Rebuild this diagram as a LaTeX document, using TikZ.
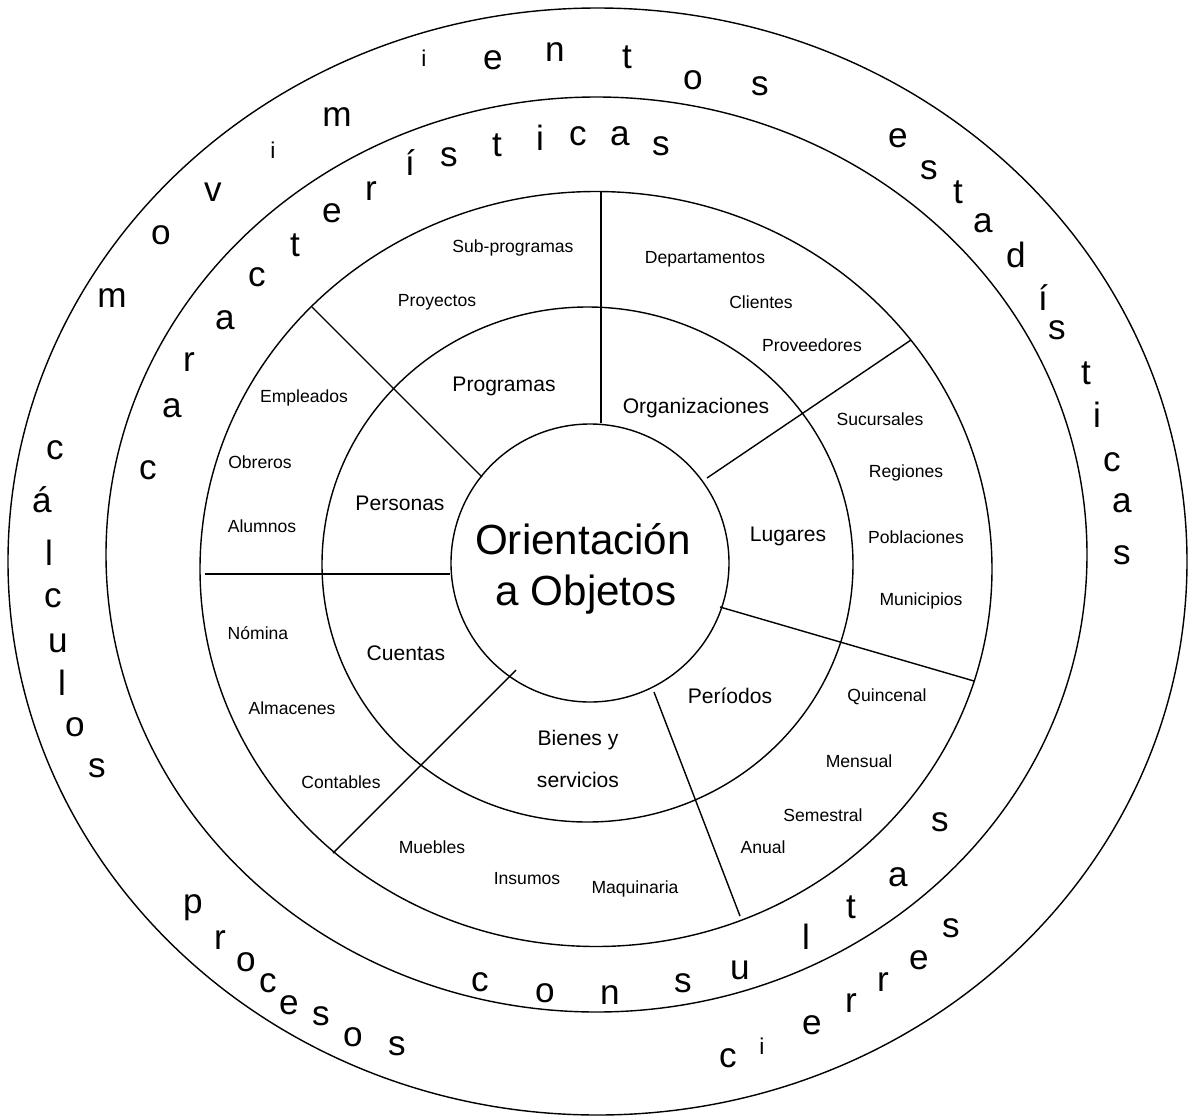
\documentclass[tikz,border=0pt]{standalone}
\usepackage{fontspec}
\setmainfont{Liberation Sans}
\begin{document}
\begin{tikzpicture}[x=0.02cm,y=-0.02cm,line width=0.8pt,
    core/.style={font=\fontsize{24}{29}\selectfont,inner sep=0pt},
    group/.style={font=\fontsize{12}{14}\selectfont,inner sep=0pt},
    item/.style={font=\fontsize{10}{12}\selectfont,inner sep=0pt},
    ringch/.style={font=\fontsize{20}{24}\selectfont,inner sep=0pt},
    ringsm/.style={font=\fontsize{13}{15}\selectfont,inner sep=0pt}]
  \useasboundingbox (0,0) rectangle (1188,1120);
  % rings
  \draw (590,563) ellipse [x radius=139,y radius=139];
  \draw (587.5,564.5) ellipse [x radius=265.5,y radius=257.5];
  \draw (596,569) ellipse [x radius=396,y radius=377.5];
  \draw (596.5,554.5) ellipse [x radius=490.5,y radius=457.5];
  \draw (597.5,561.5) ellipse [x radius=589.5,y radius=553.5];
  % dividers
  \draw (601,192) -- (601,423);
  \draw (312,307) -- (482,477);
  \draw (911,340) -- (707,478);
  \draw (205,574) -- (450,574);
  \draw (720,607) -- (974,681);
  \draw (516,670) -- (333,853);
  \draw (654,692) -- (740,916);
  % center
  \node[core,anchor=base] (core1) at (583,554) {Orientación};
  \node[core,anchor=base] (core2) at (586,605) {a Objetos};
  % first ring
  \node[group] (prog) at (504,386) {Programas};
  \node[group] (orga) at (696,408) {Organizaciones};
  \node[group] (pers) at (400,503) {Personas};
  \node[group] (luga) at (788,536) {Lugares};
  \node[group] (cuen) at (406,653) {Cuentas};
  \node[group] (peri) at (730,696) {Períodos};
  \node[group] (bien1) at (578,740) {Bienes y};
  \node[group] (bien2) at (578,780) {servicios};
  % second ring
  \node[item] (subp) at (513,248) {Sub-programas};
  \node[item] (proy) at (437,302) {Proyectos};
  \node[item] (depa) at (705,259) {Departamentos};
  \node[item] (clie) at (761,302) {Clientes};
  \node[item] (prov) at (812,345) {Proveedores};
  \node[item] (empl) at (304,398) {Empleados};
  \node[item] (obre) at (260,462) {Obreros};
  \node[item] (alum) at (262,526) {Alumnos};
  \node[item] (sucu) at (880,419) {Sucursales};
  \node[item] (regi) at (906,473) {Regiones};
  \node[item] (pobl) at (916,537) {Poblaciones};
  \node[item] (muni) at (921,601) {Municipios};
  \node[item] (nomi) at (258,633) {Nómina};
  \node[item] (alma) at (292,708) {Almacenes};
  \node[item] (cont) at (341,782) {Contables};
  \node[item] (mueb) at (432,847) {Muebles};
  \node[item] (insu) at (527,879) {Insumos};
  \node[item] (maqu) at (635,889) {Maquinaria};
  \node[item] (quin) at (887,697) {Quincenal};
  \node[item] (mens) at (859,761) {Mensual};
  \node[item] (seme) at (823,815) {Semestral};
  \node[item] (anua) at (763,847) {Anual};
  % third ring
  \foreach \ch/\px/\py [count=\k] in {c/148/470, a/172/408, r/189/362, a/225/320,
      c/257/277, t/295/245, e/332/213, r/371/191, í/410/163, s/449/157,
      t/497/145, i/540/138, c/578/136, a/620/136, s/661/146}
    \node[ringch] (car\k) at (\px,\py) {\ch};
  \foreach \ch/\px/\py [count=\k] in {c/480/982, o/545/993, n/610/995, s/683/983,
      u/740/970, l/806/937, t/851/907, a/898/877, s/940/822}
    \node[ringch] (con\k) at (\px,\py) {\ch};
  % outer ring
  \foreach \ch/\px/\py [count=\k] in {m/112/298, o/161/235, v/213/192, m/337/117,
      e/493/60, n/555/52, t/627/57, o/693/80, s/760/86}
    \node[ringch] (mov\k) at (\px,\py) {\ch};
  \node[ringsm] (movi1) at (273,150) {i};
  \node[ringsm] (movi2) at (424,58) {i};
  \foreach \ch/\px/\py [count=\k] in {e/898/138, s/929/170, t/958/192, a/983/223,
      d/1016/255, í/1043/298, s/1057/330, t/1086/373, i/1097/415, c/1112/462,
      a/1122/503, s/1122/555}
    \node[ringch] (est\k) at (\px,\py) {\ch};
  \foreach \ch/\px/\py [count=\k] in {c/55/450, á/42/500, l/49/553, c/53/598,
      u/58/643, l/62/683, o/75/727, s/97/768}
    \node[ringch] (cal\k) at (\px,\py) {\ch};
  \foreach \ch/\px/\py [count=\k] in {p/193/908, r/220/940, o/246/962, c/268/983,
      e/289/1005, s/321/1016, o/353/1037, s/397/1046}
    \node[ringch] (pro\k) at (\px,\py) {\ch};
  \foreach \ch/\px/\py [count=\k] in {c/728/1058, e/812/1025, r/851/1003,
      r/883/982, e/919/960, s/951/928}
    \node[ringch] (cie\k) at (\px,\py) {\ch};
  \node[ringsm] (ciei) at (762,1046) {i};
\end{tikzpicture}
\end{document}
